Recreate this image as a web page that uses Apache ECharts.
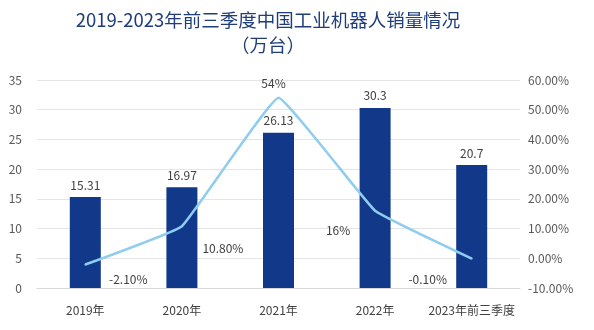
<!DOCTYPE html>
<html><head><meta charset="utf-8">
<script src="https://cdn.jsdelivr.net/npm/echarts@6/dist/echarts.min.js"></script>
<style>html,body{margin:0;padding:0;background:#fff}#c{width:594px;height:330px}</style>
</head><body><div id="c"></div>
<script>
var categories = ['2019年','2020年','2021年','2022年','2023年前三季度'];
var sales = [15.31, 16.97, 26.13, 30.3, 20.7];
var growth = [-2.1, 10.8, 54, 16, -0.1];
var growthLabels = ['-2.10%','10.80%','54%','16%','-0.10%'];
var labelOffsets = [[43,15],[41,22],[-5,-14],[-37,20],[-44,21]];

var chart = echarts.init(document.getElementById('c'), null, {renderer:'canvas'});
var font = '"Noto Sans CJK SC", "Noto Sans", sans-serif';
chart.setOption({
  animation:false,
  title:{
    text:'2019-2023年前三季度中国工业机器人销量情况\n（万台）',
    left:263, top:2, textAlign:'center',
    textStyle:{fontFamily:font, fontSize:18.5, fontWeight:'normal', color:'#1f3d7a', lineHeight:25}
  },
  grid:{left:37, right:74, top:80, bottom:42},
  xAxis:{
    type:'category', data:categories,
    axisLine:{show:true, lineStyle:{color:'#d9d9d9'}},
    axisTick:{show:false},
    axisLabel:{fontFamily:font, fontSize:12, color:'#404040', margin:16, interval:0}
  },
  yAxis:[
    {type:'value', min:0, max:35, interval:5,
     axisLabel:{fontFamily:font, fontSize:12, color:'#595959', margin:15},
     splitLine:{lineStyle:{color:'#e5e5e5'}}, axisLine:{show:false}, axisTick:{show:false}},
    {type:'value', min:-10, max:60, interval:10,
     axisLabel:{fontFamily:font, fontSize:12, color:'#595959', margin:8,
       formatter:function(v){return v.toFixed(2)+'%';}},
     splitLine:{show:false}, axisLine:{show:false}, axisTick:{show:false}}
  ],
  series:[
    {type:'bar', data:sales, barWidth:31, itemStyle:{color:'#12388a'},
     label:{show:true, position:'top', distance:6, fontFamily:font, fontSize:12, color:'#404040'}},
    {type:'line', yAxisIndex:1, smooth:0.08, showSymbol:true, symbol:'circle', symbolSize:2,
     itemStyle:{color:'#8fcdf0'},
     lineStyle:{color:'#8fcdf0', width:2.5},
     label:{show:true, position:'inside', fontFamily:font, fontSize:12, color:'#404040'},
     data:growth.map(function(v,i){
       return {value:v, label:{offset:labelOffsets[i], formatter:growthLabels[i]}};
     })}
  ]
});
</script></body></html>
